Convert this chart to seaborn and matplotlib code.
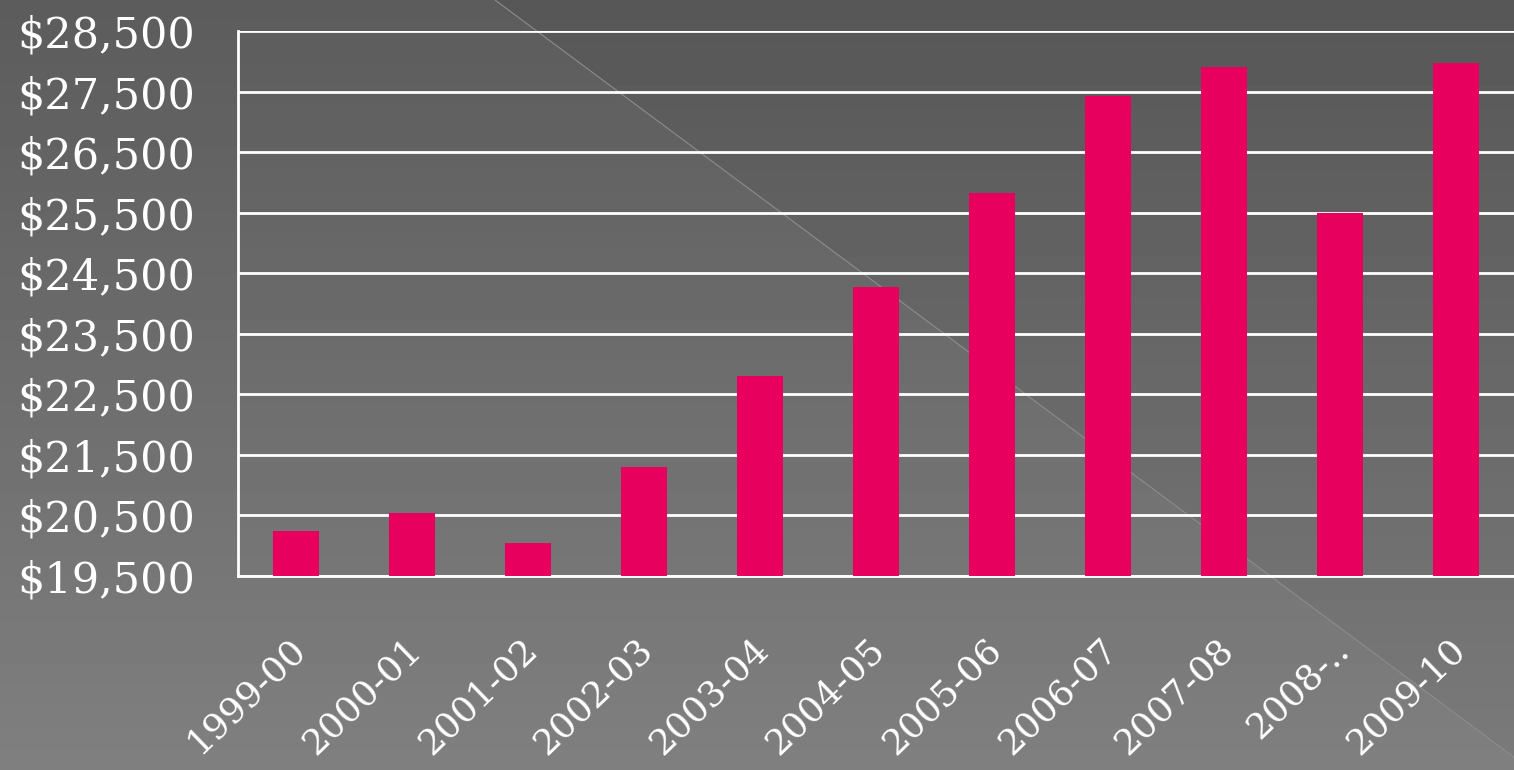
import numpy as np
import pandas as pd
import matplotlib
matplotlib.use("Agg")
import matplotlib.pyplot as plt
import matplotlib.transforms as mtransforms
import seaborn as sns

categories = ["1999-00", "2000-01", "2001-02", "2002-03", "2003-04", "2004-05",
              "2005-06", "2006-07", "2007-08", "2008-..", "2009-10"]
values = [20240, 20540, 20040, 21300, 22810, 24280, 25830, 27430, 27910, 25500, 27970]
y_ticks = [19500, 20500, 21500, 22500, 23500, 24500, 25500, 26500, 27500, 28500]

sns.set_theme(style="white")
plt.rcParams["font.family"] = ["DejaVu Serif"]

W, H = 1514, 770
fig = plt.figure(figsize=(W / 100, H / 100), dpi=100)

# background gradient
bg = fig.add_axes([0, 0, 1, 1])
yy, xx = np.mgrid[0:H, 0:W]
base = 0.34 + (0.48 - 0.34) * (yy / H)
line_x0, line_slope = 495, 0.743
left_of_line = yy > (xx - line_x0) * line_slope
img = base + 0.02 * left_of_line
bg.imshow(img, cmap="gray", vmin=0, vmax=1, extent=[0, W, H, 0], aspect="auto")
bg.plot([line_x0, W], [0, (W - line_x0) * line_slope], color="#8c8c8c", lw=0.8)
bg.set_xlim(0, W)
bg.set_ylim(H, 0)
bg.axis("off")

df = pd.DataFrame({"cat": categories, "val": values})
ax = fig.add_axes([238 / W, 194 / H, 1276 / W, 545 / H])
ax.patch.set_alpha(0)
sns.barplot(data=df, x="cat", y="val", color="#E8005F", saturation=1, width=0.4,
            ax=ax, zorder=3, edgecolor="none", linewidth=0)
ax.set_ylim(19500, 28500)
ax.set_xlim(-0.5, len(categories) - 0.5)
ax.set_yticks(y_ticks)
ax.set_yticklabels([f"${v:,}" for v in y_ticks])
ax.yaxis.grid(True, color="white", lw=2, zorder=1)
ax.set_axisbelow(True)
ax.set_xlabel("")
ax.set_ylabel("")
for s in ["top", "right"]:
    ax.spines[s].set_visible(False)
for s in ["left", "bottom"]:
    ax.spines[s].set_color("white")
    ax.spines[s].set_linewidth(2)
ax.tick_params(axis="y", length=0, pad=31, labelsize=31, colors="white")
ax.tick_params(axis="x", length=0, pad=40, labelsize=26, colors="white")
offset = mtransforms.ScaledTranslation(-8 / 100, 0, fig.dpi_scale_trans)
for lbl in ax.get_xticklabels():
    lbl.set_rotation(44)
    lbl.set_ha("right")
    lbl.set_va("top")
    lbl.set_rotation_mode("anchor")
    lbl.set_transform(lbl.get_transform() + offset)

fig.savefig("out.png", dpi=100)
